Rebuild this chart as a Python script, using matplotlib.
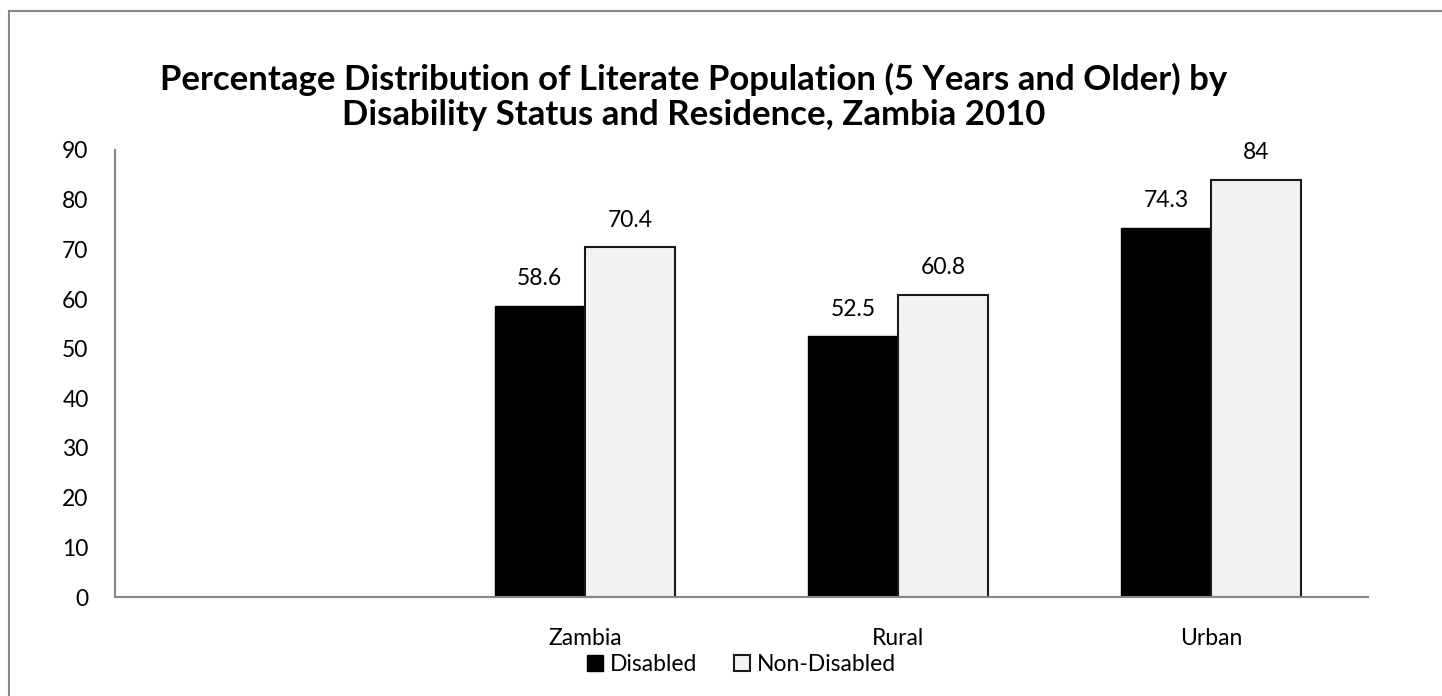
import numpy as np
import matplotlib.pyplot as plt
from matplotlib.patches import Rectangle

plt.rcParams['font.family'] = ['Lato', 'DejaVu Sans']

# data
categories = ['', 'Zambia', 'Rural', 'Urban']
disabled = [np.nan, 58.6, 52.5, 74.3]
non_disabled = [np.nan, 70.4, 60.8, 84.0]
series_names = ['Disabled', 'Non-Disabled']
title = ('Percentage Distribution of Literate Population (5 Years and Older) by\n'
         'Disability Status and Residence, Zambia 2010')

fig = plt.figure(figsize=(14.42, 6.96), dpi=100)
ax = fig.add_axes([115 / 1442, 99 / 696, 1253 / 1442, 447 / 696])

x = np.arange(len(categories))
w = 0.2875
b1 = ax.bar(x - w / 2, disabled, w, color='black', edgecolor='black',
            linewidth=1.0, label=series_names[0])
b2 = ax.bar(x + w / 2, non_disabled, w, color='#f2f2f2', edgecolor='#1a1a1a',
            linewidth=1.5, label=series_names[1])

for bars, vals in ((b1, disabled), (b2, non_disabled)):
    for r, v in zip(bars, vals):
        if np.isnan(v):
            continue
        ax.annotate(f'{v:g}', (r.get_x() + r.get_width() / 2, v),
                    xytext=(0, 12), textcoords='offset points',
                    ha='center', va='bottom', fontsize=16.5)

ax.set_xlim(-0.5, len(categories) - 0.5)
ax.set_ylim(0, 90)
ax.set_yticks(np.arange(0, 91, 10))
ax.set_xticks(x)
ax.set_xticklabels(categories)
ax.tick_params(axis='y', length=0, pad=19, labelsize=16.5)
ax.tick_params(axis='x', length=0, pad=22, labelsize=16.5)
for s in ('top', 'right'):
    ax.spines[s].set_visible(False)
for s in ('left', 'bottom'):
    ax.spines[s].set_color('#868686')
    ax.spines[s].set_linewidth(1.5)

ax.legend(loc='center', bbox_to_anchor=(0.5, -0.152), ncol=2,
          frameon=False, fontsize=16.5, handlelength=0.7, handleheight=0.7,
          handletextpad=0.3, columnspacing=1.6)

fig.text(694 / 1442, 1 - 97 / 696, title, ha='center', va='center',
         fontsize=25, fontweight='bold', linespacing=1.1)

# outer chart border
fig.patches.append(Rectangle((9 / 1442, -0.1), 1.2, 1 - 11 / 696 + 0.1,
                             transform=fig.transFigure, fill=False,
                             edgecolor='#868686', linewidth=1.5))

fig.savefig('out.png', dpi=100)
